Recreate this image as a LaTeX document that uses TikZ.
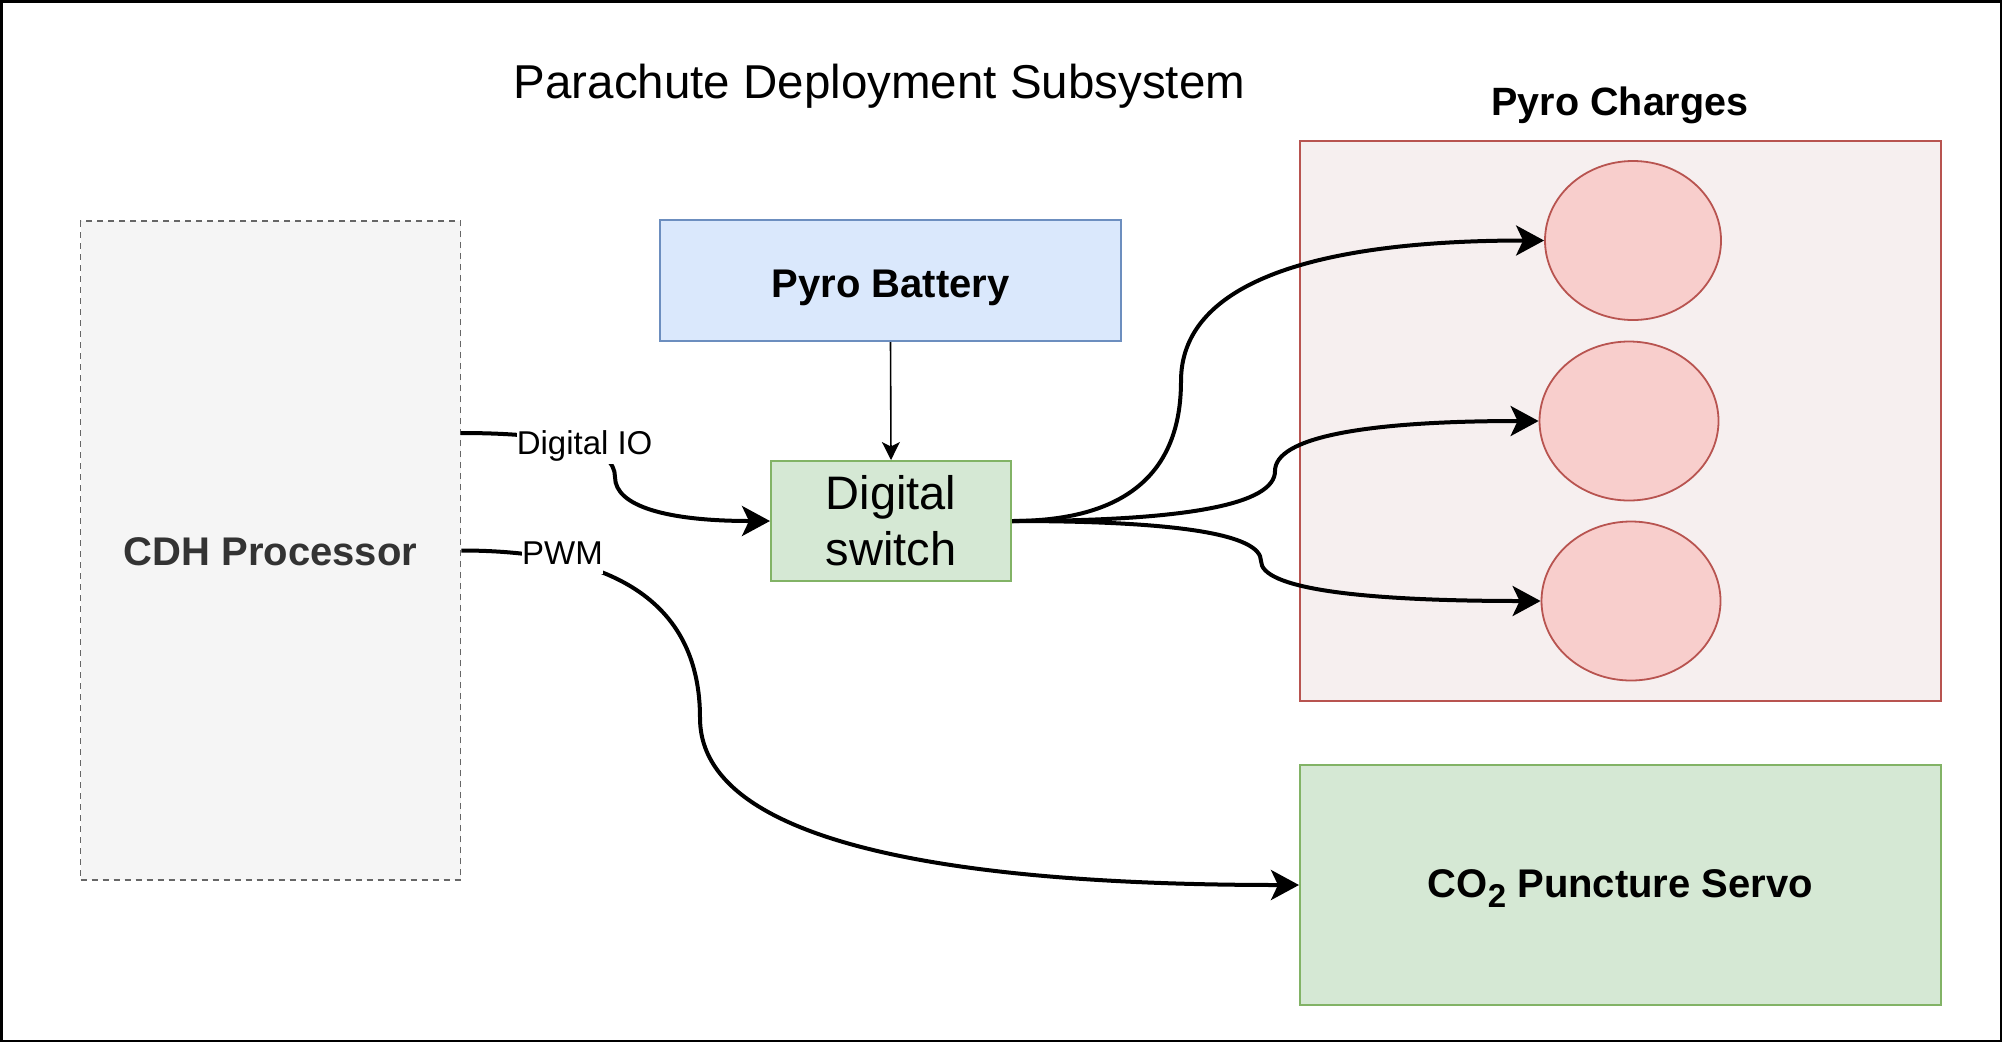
\documentclass[tikz,border=0pt]{standalone}
\usepackage{fontspec}
\setmainfont{Liberation Sans}
\usetikzlibrary{arrows.meta,shapes.geometric}
\definecolor{cdhfill}{HTML}{F5F5F5}
\definecolor{cdhline}{HTML}{666666}
\definecolor{cdhtext}{HTML}{333333}
\definecolor{bluefill}{HTML}{DAE8FC}
\definecolor{blueline}{HTML}{6C8EBF}
\definecolor{greenfill}{HTML}{D5E8D4}
\definecolor{greenline}{HTML}{82B366}
\definecolor{redfill}{HTML}{F8CECC}
\definecolor{redline}{HTML}{B85450}
\definecolor{groupfill}{HTML}{F6EFEF}
\begin{document}
\begin{tikzpicture}[x=1pt,y=-1pt,
  box/.style={draw, rectangle, line width=2pt, inner sep=0pt},
  boldtext/.style={font=\fontsize{40}{48}\selectfont\bfseries},
  charge/.style={draw=redline, fill=redfill, ellipse, line width=1.8pt, inner sep=0pt, minimum height=159pt},
  edge/.style={line width=4pt, -{Stealth[length=28pt,width=30pt,inset=7pt]}},
  thinedge/.style={line width=1.6pt, -{Stealth[length=18pt,width=18pt,inset=4.5pt]}},
  edgelabel/.style={fill=white, anchor=base, inner xsep=0pt, inner ysep=1pt, text height=24pt, text depth=9pt, font=\fontsize{33}{40}\selectfont}
]
\useasboundingbox (0,0) rectangle (2004,1042);
\draw[line width=2.5pt] (1.25,1.25) rectangle (2000.75,1040.75);

% title
\node[anchor=base, inner sep=0pt, font=\fontsize{47.5}{57}\selectfont] (title) at (879.5,98.3) {Parachute Deployment Subsystem};

% pyro charges group
\node[box, draw=redline, fill=groupfill, line width=1.8pt, minimum width=641pt, minimum height=560pt] (group) at (1620.5,421) {};
\node[anchor=base, inner sep=0pt, font=\fontsize{39.5}{47}\selectfont\bfseries] (grouptitle) at (1620,115.7) {Pyro Charges};
\node[charge, minimum width=176pt] (p1) at (1633,240.5) {};
\node[charge, minimum width=179pt] (p2) at (1629,421) {};
\node[charge, minimum width=179pt] (p3) at (1631,601) {};

% CDH processor
\node[box, draw=cdhline, fill=cdhfill, line width=1.6pt, dash pattern=on 6pt off 5pt,
      minimum width=380pt, minimum height=659pt, boldtext, text=cdhtext,
      text height=36pt, text depth=7pt] (cdh) at (270.5,550.5) {CDH Processor};

% pyro battery
\node[box, draw=blueline, fill=bluefill, minimum width=461pt, minimum height=121pt, boldtext,
      text height=40pt, text depth=5.2pt] (bat) at (890.5,280.5) {Pyro Battery};

% digital switch
\node[box, draw=greenline, fill=greenfill, minimum width=240pt, minimum height=120pt,
      align=center, font=\fontsize{47}{56}\selectfont] (sw) at (891,521) {Digital\\switch};

% CO2 puncture servo
\node[box, draw=greenline, fill=greenfill, minimum width=641pt, minimum height=240pt, boldtext,
      text height=35pt, text depth=9.6pt] (servo) at (1620.5,885)
      {CO\raisebox{-10pt}{\fontsize{33}{33}\selectfont 2} Puncture Servo};

% connectors
\coordinate (iostart) at (460.5,433);
\draw[thinedge] (bat.south) -- (sw.north);
\draw[edge] (iostart) .. controls (563.3,433) and (615,447.7) .. (615,477)
            .. controls (615,506.3) and (667,521) .. (sw.west);
\draw[edge] (cdh.east) .. controls (620,550.5) and (700,606.7) .. (700,718)
            .. controls (700,829.3) and (900,885) .. (servo.west);
\draw[edge] (sw.east) .. controls (1124.3,521) and (1181,474.3) .. (1181,381)
            .. controls (1181,287.7) and (1302,240.5) .. (p1.west);
\draw[edge] (sw.east) .. controls (1187,521) and (1275,504.3) .. (1275,471)
            .. controls (1275,437.7) and (1363,421) .. (p2.west);
\draw[edge] (sw.east) .. controls (1177.7,521) and (1261,534.3) .. (1261,561)
            .. controls (1261,587.7) and (1354.3,601) .. (p3.west);

% edge labels
\node[edgelabel] (iolabel) at (584.6,454) {Digital IO};
\node[edgelabel] (pwmlabel) at (562.5,564) {PWM};
\end{tikzpicture}
\end{document}
